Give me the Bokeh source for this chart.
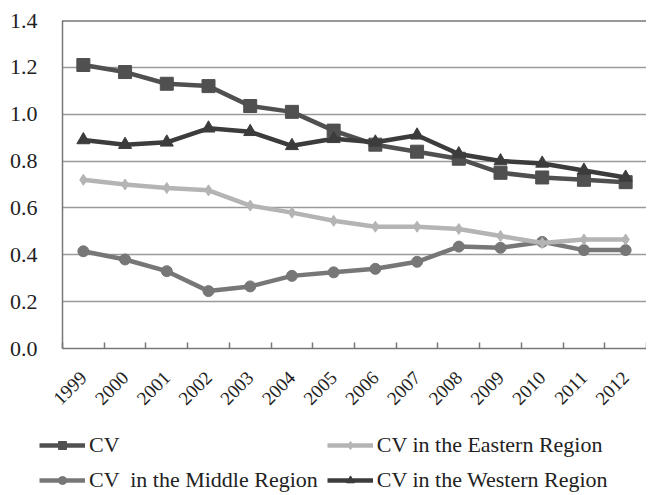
import math
from bokeh.plotting import figure
from bokeh.models import Range1d, FixedTicker, Legend, LegendItem, Span
from bokeh.embed import file_html
from bokeh.resources import INLINE

years = ["1999", "2000", "2001", "2002", "2003", "2004", "2005",
         "2006", "2007", "2008", "2009", "2010", "2011", "2012"]
cv = [1.21, 1.18, 1.13, 1.12, 1.035, 1.01, 0.93, 0.87, 0.84, 0.81, 0.75, 0.73, 0.72, 0.71]
cv_east = [0.72, 0.70, 0.685, 0.675, 0.61, 0.58, 0.545, 0.52, 0.52, 0.51, 0.48, 0.45, 0.465, 0.465]
cv_middle = [0.415, 0.38, 0.33, 0.245, 0.265, 0.31, 0.325, 0.34, 0.37, 0.435, 0.43, 0.455, 0.42, 0.42]
cv_west = [0.89, 0.87, 0.88, 0.94, 0.925, 0.865, 0.895, 0.88, 0.91, 0.83, 0.80, 0.79, 0.76, 0.73]
y_ticks = [0.0, 0.2, 0.4, 0.6, 0.8, 1.0, 1.2, 1.4]

FONT = "Liberation Serif"
xs = list(range(len(years)))

p = figure(frame_width=584, frame_height=328, output_backend="svg",
           toolbar_location=None, x_range=Range1d(-0.5, len(years) - 0.5),
           y_range=Range1d(0, 1.4), min_border_left=62, min_border_top=20,
           min_border_right=0, min_border_bottom=70, outline_line_color=None,
           background_fill_color="white", border_fill_color="white")

# axes
p.xaxis.ticker = FixedTicker(ticks=xs, minor_ticks=[i - 0.5 for i in range(len(years) + 1)])
p.xaxis.major_label_overrides = {i: y for i, y in enumerate(years)}
p.xaxis.major_label_orientation = math.pi / 4
p.xaxis.major_tick_line_color = None
p.xaxis.minor_tick_in = 6
p.xaxis.minor_tick_out = 0
p.xaxis.minor_tick_line_color = "#777777"
p.xaxis.minor_tick_line_width = 1.5
p.xaxis.axis_line_color = "#777777"
p.xaxis.axis_line_width = 1.5
p.xaxis.major_label_text_font = FONT
p.xaxis.major_label_text_font_size = "19px"
p.xaxis.major_label_text_color = "#222222"
p.xaxis.major_label_standoff = 20

p.yaxis.ticker = FixedTicker(ticks=y_ticks)
p.yaxis.major_label_overrides = {t: f"{t:.1f}" for t in y_ticks}
p.yaxis.major_tick_line_color = None
p.yaxis.major_tick_out = 0
p.yaxis.major_tick_in = 0
p.yaxis.minor_tick_line_color = None
p.yaxis.axis_line_color = "#777777"
p.yaxis.axis_line_width = 1.5
p.yaxis.major_label_text_font = FONT
p.yaxis.major_label_text_font_size = "22px"
p.yaxis.major_label_text_color = "#222222"
p.yaxis.major_label_standoff = 25

p.xgrid.grid_line_color = None
p.ygrid.grid_line_color = "#9a9a9a"
p.ygrid.grid_line_width = 1.5
p.add_layout(Span(location=1.4, dimension="width", line_color="#333333", line_width=2))

series = [
    ("CV", cv, "#505050", "square", 13),
    ("CV  in the Middle Region", cv_middle, "#777777", "circle", 11),
    ("CV in the Eastern Region", cv_east, "#b4b4b4", "diamond", 11),
    ("CV in the Western Region", cv_west, "#3c3c3c", "triangle", 13),
]

# legend strip below the chart: same series, hidden renderers, only legend shows
leg = figure(width=646, height=77, output_backend="svg", toolbar_location=None,
             x_range=Range1d(100, 101), y_range=Range1d(100, 101),
             x_axis_type=None, y_axis_type=None, min_border=0,
             outline_line_color=None, border_fill_color="white",
             background_fill_color="white")
leg.grid.visible = False

items = []
for name, vals, col, mk, sz in series:
    p.line(xs, vals, line_color=col, line_width=4.5)
    p.scatter(xs, vals, marker=mk, size=sz, fill_color=col, line_color=col)
    l = leg.line(xs, vals, line_color=col, line_width=4.5)
    s = leg.scatter(xs, vals, marker=mk, size=sz - 3, fill_color=col, line_color=col)
    items.append(LegendItem(label=name, renderers=[l, s]))

legend = Legend(items=items, ncols=2, location=(39, 2),
                label_text_font=FONT, label_text_font_size="22px",
                label_text_color="#222222", glyph_width=46, glyph_height=20,
                label_standoff=4, spacing=9, padding=4, margin=0,
                border_line_color=None, background_fill_alpha=0,
                click_policy="none")
leg.add_layout(legend, "center")

open("out.html", "w").write(file_html([p, leg], INLINE))
